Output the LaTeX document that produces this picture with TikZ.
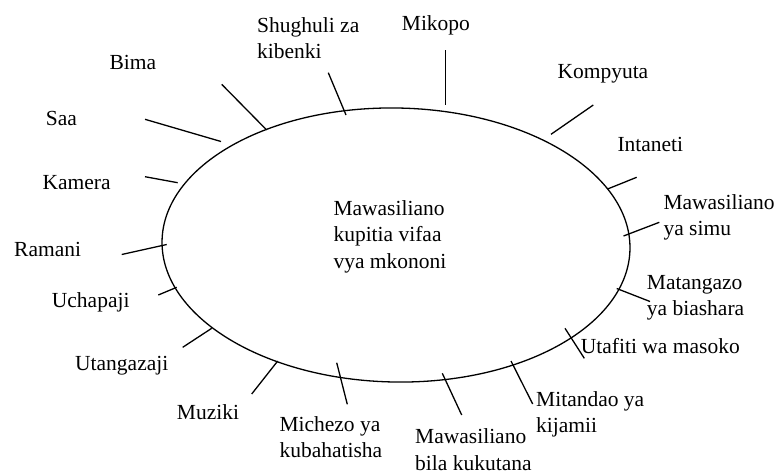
\documentclass[tikz,border=0pt]{standalone}
\usepackage{fontspec}
\setmainfont{Liberation Serif}
\begin{document}
\begin{tikzpicture}[x=1pt,y=-1pt,
  lbl/.style={inner sep=0pt, anchor=base west, font=\fontsize{21.5}{26.5}\selectfont},
  mlbl/.style={inner sep=0pt, anchor=north west, align=left, font=\fontsize{21.5}{26.5}\selectfont},
  tick/.style={line width=1.3pt},
  ring/.style={line width=1.3pt}]
\useasboundingbox (0,0) rectangle (783,475);
% central ellipse
\coordinate (c) at (396,245);
\draw[ring, rotate around={-1:(c)}] (c) ellipse [x radius=234pt, y radius=137pt];
\node[mlbl] (centre) at (333.3,200.3) {Mawasiliano\\kupitia vifaa\\vya mkononi};
% labels
\node[mlbl] (shughuli) at (257,17) {Shughuli za\\kibenki};
\node[lbl] (mikopo) at (401.7,30.7) {Mikopo};
\node[lbl] (kompyuta) at (557.3,78.3) {Kompyuta};
\node[lbl] (intaneti) at (617.3,151) {Intaneti};
\node[mlbl] (simu) at (663.3,194.3) {Mawasiliano\\ya simu};
\node[mlbl] (matangazo) at (646.7,275.1) {Matangazo\\ya biashara};
\node[lbl] (utafiti) at (580.7,353.3) {Utafiti wa masoko};
\node[mlbl] (mitandao) at (536,391.3) {Mitandao ya\\kijamii};
\node[mlbl] (bila) at (415,428.6) {Mawasiliano\\bila kukutana};
\node[mlbl] (michezo) at (279.3,416) {Michezo ya\\kubahatisha};
\node[lbl] (muziki) at (176.7,419) {Muziki};
\node[lbl] (utangazaji) at (75,370) {Utangazaji};
\node[lbl] (uchapaji) at (51.7,307.3) {Uchapaji};
\node[lbl] (ramani) at (14,256) {Ramani};
\node[lbl] (kamera) at (42.3,189) {Kamera};
\node[lbl] (saa) at (45.7,125.7) {Saa};
\node[lbl] (bima) at (109.3,69.3) {Bima};
% ticks
\coordinate (a1) at (328.3,72.7);  \coordinate (b1) at (346,115);
\coordinate (a2) at (221.7,84.3);  \coordinate (b2) at (266.7,130);
\coordinate (a3) at (145,119.3);   \coordinate (b3) at (221,141.5);
\coordinate (a4) at (145,176.7);   \coordinate (b4) at (177.7,182.7);
\coordinate (a5) at (121.7,254.5); \coordinate (b5) at (166.7,244.5);
\coordinate (a6) at (158.3,295);   \coordinate (b6) at (176.7,287.3);
\coordinate (a7) at (182.7,347.3); \coordinate (b7) at (211.7,328.3);
\coordinate (a8) at (251.7,394);   \coordinate (b8) at (277.7,361);
\coordinate (a9) at (336.7,362.7); \coordinate (b9) at (347.3,404.3);
\coordinate (a10) at (442.3,373.3); \coordinate (b10) at (461.7,415);
\coordinate (a11) at (511,361);     \coordinate (b11) at (532.7,404);
\coordinate (a12) at (565,328.3);   \coordinate (b12) at (584.3,358.3);
\coordinate (a13) at (616.7,288.5); \coordinate (b13) at (650,301.5);
\coordinate (a14) at (659.3,222.3); \coordinate (b14) at (623.5,236);
\coordinate (a15) at (636.7,177.3); \coordinate (b15) at (607.5,189);
\coordinate (a16) at (593.3,105);   \coordinate (b16) at (551,134.3);
\coordinate (a17) at (445.7,50);    \coordinate (b17) at (445.7,104.5);
\foreach \i in {1,...,17} { \draw[tick] (a\i) -- (b\i); }
\end{tikzpicture}
\end{document}
